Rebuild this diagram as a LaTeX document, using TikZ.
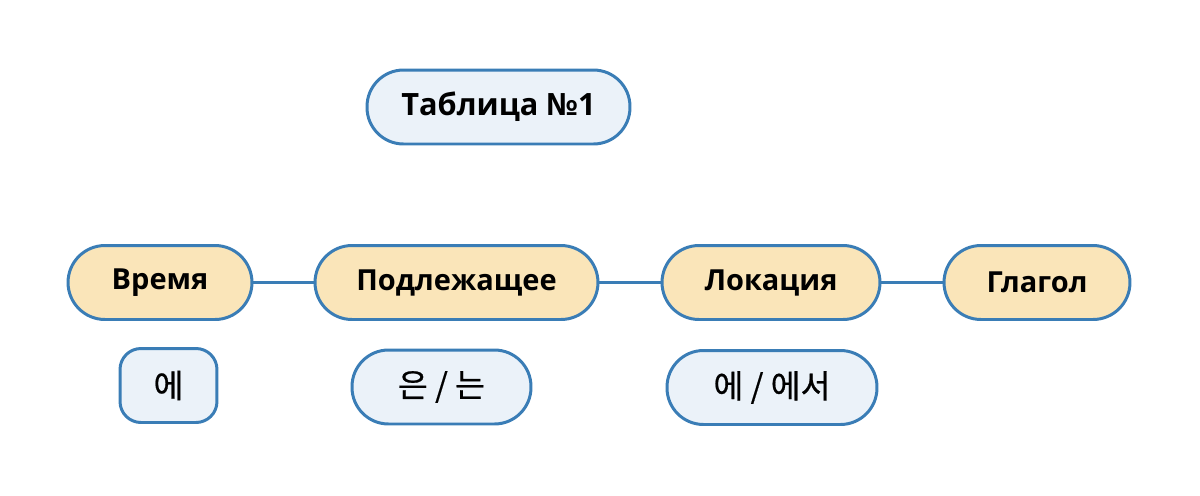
\documentclass[tikz,border=0pt]{standalone}
\usepackage{fontspec}
\setmainfont{Open Sans}
\newfontfamily\kr[FakeBold=0.6]{Noto Sans CJK KR}
\definecolor{edge}{HTML}{3A7DB6}
\definecolor{yel}{HTML}{FAE5B9}
\definecolor{blu}{HTML}{EBF2F9}
\begin{document}
\begin{tikzpicture}[x=0.02cm,y=-0.02cm,
  base/.style={draw=edge,line width=1.7pt,inner sep=0pt,minimum height=1.48cm},
  ylw/.style={base,fill=yel,rounded corners=0.74cm,font=\fontsize{16.5}{20}\selectfont\bfseries},
  ttl/.style={base,fill=blu,rounded corners=0.73cm,font=\fontsize{17.5}{21}\selectfont\bfseries},
  kor/.style={base,fill=blu,rounded corners=0.73cm,font=\kr\fontsize{18.5}{22}\selectfont},
  link/.style={draw=edge,line width=1.7pt}]
\useasboundingbox (0,0) rectangle (1200,495);
\node[ttl,minimum width=5.26cm] (title) at (498.5,107) {Таблица №1};
\node[ylw,minimum width=3.68cm] (vremya) at (160,282.5) {Время};
\node[ylw,minimum width=5.66cm] (podl) at (456.5,282.5) {Подлежащее};
\node[ylw,minimum width=4.36cm] (lok) at (771,282.5) {Локация};
\node[ylw,minimum width=3.72cm] (glag) at (1037,282.5) {Глагол};
\node[kor,minimum width=1.94cm,rounded corners=0.42cm] (e) at (168.5,385.5) {에};
\node[kor,minimum width=3.58cm] (eun) at (441.5,387) {은 / 는};
\node[kor,minimum width=4.2cm] (eseo) at (772,387.5) {에 / 에서};
\draw[link] (vremya) -- (podl);
\draw[link] (podl) -- (lok);
\draw[link] (lok) -- (glag);
\end{tikzpicture}
\end{document}
